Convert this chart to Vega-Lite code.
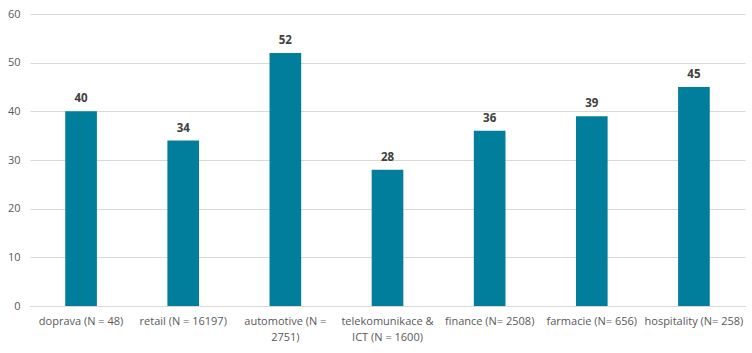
{
  "$schema": "https://vega.github.io/schema/vega-lite/v6.json",
  "width": 715,
  "height": 292,
  "autosize": {"type": "none"},
  "padding": {"left": 30, "top": 14, "right": 7, "bottom": 47},
  "background": "white",
  "config": {"view": {"stroke": null}, "font": "Open Sans"},
  "data": {
    "values": [
      {"category": "doprava (N = 48)", "value": 40},
      {"category": "retail (N = 16197)", "value": 34},
      {"category": "automotive (N = 2751)", "value": 52},
      {"category": "telekomunikace & ICT (N = 1600)", "value": 28},
      {"category": "finance (N= 2508)", "value": 36},
      {"category": "farmacie (N= 656)", "value": 39},
      {"category": "hospitality (N= 258)", "value": 45}
    ]
  },
  "encoding": {
    "x": {
      "field": "category",
      "type": "nominal",
      "sort": null,
      "scale": {"paddingInner": 0.69, "paddingOuter": 0.345},
      "axis": {
        "title": null,
        "labelAngle": 0,
        "ticks": false,
        "domainColor": "#D9D9D9",
        "labelColor": "#595959",
        "labelFontSize": 11,
        "labelPadding": 9,
        "labelLineHeight": 16,
        "labelExpr": "datum.value == 'automotive (N = 2751)' ? ['automotive (N =', '2751)'] : datum.value == 'telekomunikace & ICT (N = 1600)' ? ['telekomunikace &', 'ICT (N = 1600)'] : datum.value"
      }
    },
    "y": {
      "field": "value",
      "type": "quantitative",
      "scale": {"domain": [0, 60]},
      "axis": {
        "title": null,
        "values": [0, 10, 20, 30, 40, 50, 60],
        "domain": false,
        "ticks": false,
        "gridColor": "#D9D9D9",
        "labelColor": "#595959",
        "labelFontSize": 11,
        "labelPadding": 10
      }
    }
  },
  "layer": [
    {"mark": {"type": "bar", "color": "#007E9C"}},
    {
      "mark": {"type": "text", "dy": -12, "fontWeight": "bold", "fontSize": 11.5, "color": "#404040"},
      "encoding": {"text": {"field": "value", "type": "quantitative"}}
    }
  ]
}
